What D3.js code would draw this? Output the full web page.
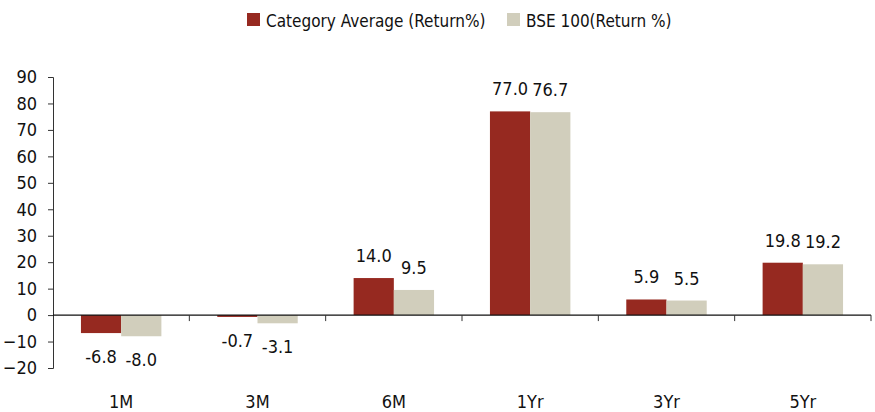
<!DOCTYPE html>
<html>
<head>
<meta charset="utf-8">
<script src="https://cdn.jsdelivr.net/npm/d3@7"></script>
<style>
  body { margin: 0; background: #fff; }
  svg text { font-family: "DejaVu Sans Condensed", "Liberation Sans Narrow", sans-serif; font-stretch: condensed; fill: #111; }
</style>
</head>
<body>
<div id="chart"></div>
<script>
const width = 875;
const height = 412;

// data
const categories = ["1M", "3M", "6M", "1Yr", "3Yr", "5Yr"];
const seriesNames = ["Category Average (Return%)", "BSE 100(Return %)"];
const categoryAvg = [-6.8, -0.7, 14.0, 77.0, 5.9, 19.8];
const bse100 = [-8.0, -3.1, 9.5, 76.7, 5.5, 19.2];
const yTicks = [-20, -10, 0, 10, 20, 30, 40, 50, 60, 70, 80, 90];

const colors = ["#962920", "#d1cebc"];

const margin = { left: 53, right: 4, top: 77, bottom: 44 };

const svg = d3.select("#chart")
  .append("svg")
  .attr("width", width)
  .attr("height", height);

const y = d3.scaleLinear()
  .domain([-20, 90])
  .range([368, 77]);

const x0 = d3.scaleBand()
  .domain(categories)
  .range([margin.left, width - margin.right])
  .paddingInner(0.41)
  .paddingOuter(0.205);

const x1 = d3.scaleBand()
  .domain([0, 1])
  .range([0, x0.bandwidth()]);

// y axis
const yAxis = svg.append("g")
  .attr("transform", `translate(${margin.left},0)`)
  .call(d3.axisLeft(y).tickValues(yTicks).tickSize(5).tickPadding(11).tickFormat(d3.format("d")));
yAxis.select(".domain").attr("stroke", "#333");
yAxis.selectAll(".tick line").attr("stroke", "#333");
yAxis.selectAll("text").attr("font-size", 18).attr("fill", "#111");

// bars
const rows = categories.map((c, i) => ({ cat: c, vals: [categoryAvg[i], bse100[i]] }));

const groups = svg.selectAll(".grp")
  .data(rows)
  .enter()
  .append("g")
  .attr("transform", d => `translate(${x0(d.cat)},0)`);

groups.selectAll("rect")
  .data(d => d.vals.map((v, k) => ({ v, k })))
  .enter()
  .append("rect")
  .attr("x", d => x1(d.k))
  .attr("width", x1.bandwidth())
  .attr("y", d => y(Math.max(0, d.v)))
  .attr("height", d => Math.abs(y(d.v) - y(0)))
  .attr("fill", d => colors[d.k]);

groups.selectAll(".lbl")
  .data(d => d.vals.map((v, k) => ({ v, k })))
  .enter()
  .append("text")
  .attr("class", "lbl")
  .attr("x", d => x1(d.k) + x1.bandwidth() / 2)
  .attr("y", d => d.v >= 0 ? y(d.v) - 16 : y(d.v) + 30)
  .attr("text-anchor", "middle")
  .attr("font-size", 18)
  .text(d => d.v.toFixed(1));

// x axis line with ticks between categories
const bandStep = (width - margin.right - margin.left) / categories.length;
svg.append("line")
  .attr("x1", margin.left)
  .attr("x2", width - margin.right)
  .attr("y1", y(0))
  .attr("y2", y(0))
  .attr("stroke", "#111")
  .attr("stroke-width", 1.2);

svg.selectAll(".xtick")
  .data(d3.range(1, categories.length + 1))
  .enter()
  .append("line")
  .attr("x1", i => margin.left + i * bandStep)
  .attr("x2", i => margin.left + i * bandStep)
  .attr("y1", y(0))
  .attr("y2", y(0) + 6)
  .attr("stroke", "#333");

svg.selectAll(".xlbl")
  .data(categories)
  .enter()
  .append("text")
  .attr("x", d => x0(d) + x0.bandwidth() / 2)
  .attr("y", 408)
  .attr("text-anchor", "middle")
  .attr("font-size", 18)
  .text(d => d);

// legend
const legend = svg.append("g");
const legendX = [247, 507];
seriesNames.forEach((name, i) => {
  legend.append("rect")
    .attr("x", legendX[i])
    .attr("y", 13)
    .attr("width", 13)
    .attr("height", 13)
    .attr("fill", colors[i]);
  legend.append("text")
    .attr("x", legendX[i] + 19)
    .attr("y", 27)
    .attr("font-size", 17)
    .text(name);
});
</script>
</body>
</html>
